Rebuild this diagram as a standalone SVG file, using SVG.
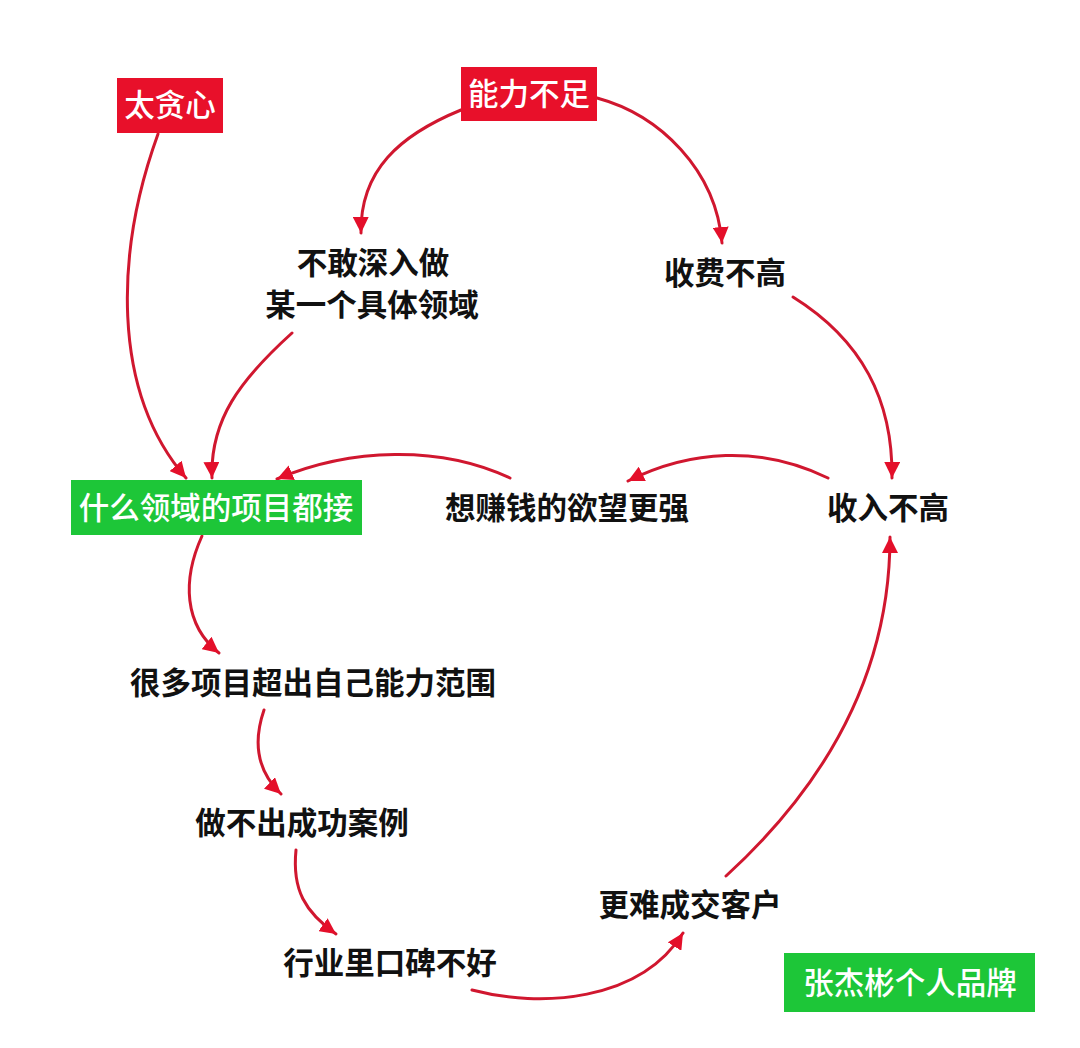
<svg xmlns="http://www.w3.org/2000/svg" width="1080" height="1048" viewBox="0 0 1080 1048">
<style>
.t{font-family:"Noto Sans CJK SC","Noto Sans",sans-serif;font-size:30.5px;font-weight:bold;text-anchor:middle;fill:#111}
.w{fill:#fff;font-weight:500}
.red{fill:#E8102A}
.green{fill:#1DC638}
.c{fill:none;stroke:#D0172F;stroke-width:3;stroke-linecap:round}
</style>
<defs>
<marker id="ah" markerUnits="userSpaceOnUse" markerWidth="18" markerHeight="16" refX="16" refY="8" orient="auto">
<path d="M0,0 L16,8 L0,16 Z" fill="#E40F2A"/>
</marker>
</defs>
<rect width="1080" height="1048" fill="#fff"/>
<g id="connectors">
<path class="c" marker-end="url(#ah)" d="M158,134 C116,250 110,390 186,478"/>
<path class="c" marker-end="url(#ah)" d="M292,333 C240,380 210,420 212,478"/>
<path class="c" marker-end="url(#ah)" d="M461,110 C400,135 360,170 361,233"/>
<path class="c" marker-end="url(#ah)" d="M597,98 C660,115 716,170 722,243"/>
<path class="c" marker-end="url(#ah)" d="M793,297 C862,340 893,400 892,478"/>
<path class="c" marker-end="url(#ah)" d="M828,478 C760,445 690,450 628,481"/>
<path class="c" marker-end="url(#ah)" d="M510,478 C440,445 350,448 277,479"/>
<path class="c" marker-end="url(#ah)" d="M202,536 C182,580 184,625 219,653"/>
<path class="c" marker-end="url(#ah)" d="M264,710 C252,745 258,772 281,794"/>
<path class="c" marker-end="url(#ah)" d="M296,850 C292,890 305,912 336,934"/>
<path class="c" marker-end="url(#ah)" d="M472,990 C540,1008 640,1002 683,933"/>
<path class="c" marker-end="url(#ah)" d="M726,876 C820,790 890,680 890,537"/>
</g>
<g id="n-taitanxin"><rect class="red" x="117" y="78" width="106" height="55"/><text class="t w" x="170" y="116">太贪心</text></g>
<g id="n-nengli"><rect class="red" x="461" y="67" width="136" height="54"/><text class="t w" x="529" y="105">能力不足</text></g>
<g id="n-bugan"><text class="t" x="373" y="274">不敢深入做</text><text class="t" x="372" y="316">某一个具体领域</text></g>
<g id="n-shoufei"><text class="t" x="725" y="284">收费不高</text></g>
<g id="n-shouru"><text class="t" x="888" y="519">收入不高</text></g>
<g id="n-xiang"><text class="t" x="567" y="519">想赚钱的欲望更强</text></g>
<g id="n-shenme"><rect class="green" x="71" y="480" width="291" height="55"/><text class="t w" x="216" y="519">什么领域的项目都接</text></g>
<g id="n-henduo"><text class="t" x="313" y="694">很多项目超出自己能力范围</text></g>
<g id="n-zuobuchu"><text class="t" x="302" y="834">做不出成功案例</text></g>
<g id="n-hangye"><text class="t" x="390" y="974">行业里口碑不好</text></g>
<g id="n-gengnan"><text class="t" x="690" y="916">更难成交客户</text></g>
<g id="n-brand"><rect class="green" x="784" y="953" width="251" height="59"/><text class="t w" x="910" y="994">张杰彬个人品牌</text></g>
</svg>
